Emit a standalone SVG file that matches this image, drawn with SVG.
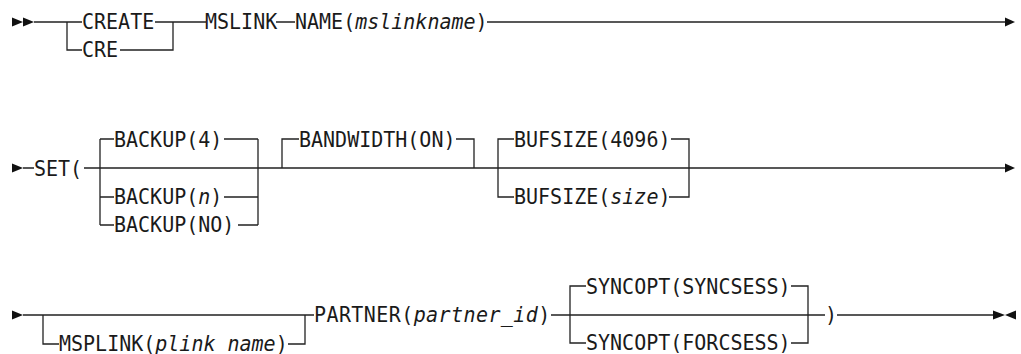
<svg xmlns="http://www.w3.org/2000/svg" width="1021" height="354" viewBox="0 0 1021 354">
<style>
text{font-family:"DejaVu Sans Mono","Liberation Mono",monospace;font-size:20px;fill:#1a1a1a}
.v{font-style:italic}
.c{fill:none;stroke:#222;stroke-width:1.3}
.a{fill:#111}
</style>
<rect width="1021" height="354" fill="#fff"/>
<g id="connectors">
  <path class="c" d="M34,22H82 M155,22H206 M276,22H295 M487,22H1005"/>
  <path class="c" d="M67,22V50H82 M120,50H173V22"/>
  <path class="c" d="M23,168H34 M84,168H1005"/>
  <path class="c" d="M100,139V225 M100,139H114 M224,139H258 M100,197H114 M224,197H258 M100,225H114 M238,225H258 M258,139V225"/>
  <path class="c" d="M299,139H282V168 M456,139H474V168"/>
  <path class="c" d="M514,139H498V197H514 M671,139H689V197H669"/>
  <path class="c" d="M23,315H314 M551,315H825 M837,315H993"/>
  <path class="c" d="M43,315V344H59 M288,344H305V315"/>
  <path class="c" d="M586,286H570V343H586 M791,286H808V343H791"/>
  <polygon class="a" points="12,17.5 23,22 12,26.5"/>
  <polygon class="a" points="23,17.5 34,22 23,26.5"/>
  <polygon class="a" points="1005,17.5 1015,22 1005,26.5"/>
  <polygon class="a" points="12,163.5 23,168 12,172.5"/>
  <polygon class="a" points="1005,163.5 1015,168 1005,172.5"/>
  <polygon class="a" points="12,310.5 23,315 12,319.5"/>
  <polygon class="a" points="993,310.5 1005,315 993,319.5"/>
  <polygon class="a" points="1016,310.5 1005,315 1016,319.5"/>
</g>
<g id="n-create"><text transform="translate(82 28.5) scale(1 1.07)">CREATE</text></g>
<g id="n-cre"><text transform="translate(82 56.5) scale(1 1.07)">CRE</text></g>
<g id="n-mslink"><text transform="translate(205 28.5) scale(1 1.07)">MSLINK</text></g>
<g id="n-name"><text transform="translate(295 28.5) scale(1 1.07)">NAME(<tspan class="v">mslinkname</tspan>)</text></g>
<g id="n-set"><text transform="translate(34 175.5) scale(1 1.07)">SET(</text></g>
<g id="n-backup4"><text transform="translate(114 147) scale(1 1.07)">BACKUP(4)</text></g>
<g id="n-backupn"><text transform="translate(114 204) scale(1 1.07)">BACKUP(<tspan class="v">n</tspan>)</text></g>
<g id="n-backupno"><text transform="translate(114 232) scale(1 1.07)">BACKUP(NO)</text></g>
<g id="n-bandwidth"><text transform="translate(299 147) scale(1 1.07)">BANDWIDTH(ON)</text></g>
<g id="n-bufsize4096"><text transform="translate(514 147) scale(1 1.07)">BUFSIZE(4096)</text></g>
<g id="n-bufsizesize"><text transform="translate(514 204) scale(1 1.07)">BUFSIZE(<tspan class="v">size</tspan>)</text></g>
<g id="n-msplink"><text transform="translate(59 350.5) scale(1 1.07)">MSPLINK(<tspan class="v">plink name</tspan>)</text></g>
<g id="n-partner"><text transform="translate(314 321.5) scale(1 1.07)" letter-spacing="0.42">PARTNER(<tspan class="v">partner_id</tspan>)</text></g>
<g id="n-syncsess"><text transform="translate(586 294) scale(1 1.07)">SYNCOPT(SYNCSESS)</text></g>
<g id="n-forcsess"><text transform="translate(586 349.5) scale(1 1.07)">SYNCOPT(FORCSESS)</text></g>
<g id="n-close"><text transform="translate(825 321.5) scale(1 1.07)">)</text></g>
</svg>
